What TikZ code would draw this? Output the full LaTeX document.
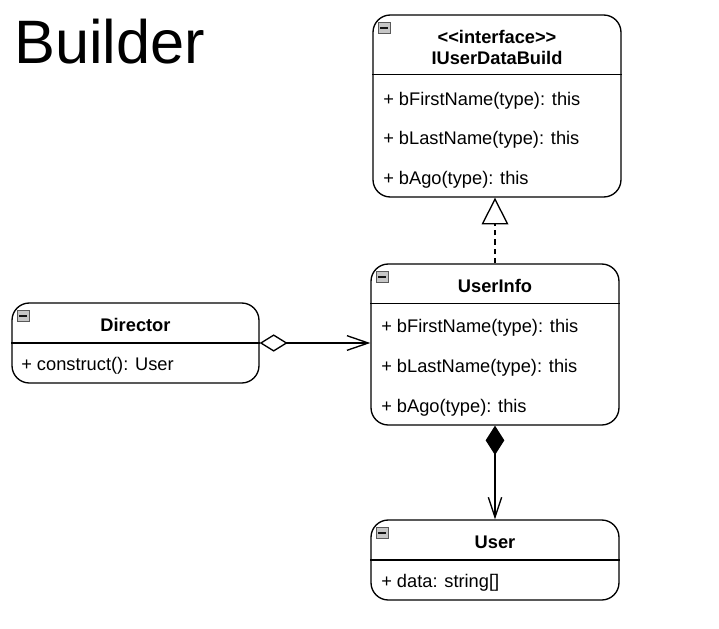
\documentclass[tikz,border=0pt]{standalone}
\usepackage{fontspec}
\setmainfont{Liberation Sans}
\usetikzlibrary{arrows.meta}
\usetikzlibrary{positioning}
\usetikzlibrary{calc}

\def\px{0.75pt}

\begin{document}
\begin{tikzpicture}[x=0.75pt, y=-0.75pt,
  classbox/.style={draw, line width=1pt, rounded corners=13pt, inner sep=0pt},
  member/.style={anchor=west, inner sep=0pt, font=\fontsize{13.7}{16}\selectfont},
  classtitle/.style={inner sep=0pt, font=\bfseries\fontsize{13.7}{16}\selectfont},
  iconbox/.style={draw=gray!70!black, fill=gray!45, line width=0.5pt},
  link/.style={line width=1pt}]
  \useasboundingbox (0,0) rectangle (719,629);

  % heading
  \node[anchor=base west, inner sep=0pt, font=\fontsize{46}{50}\selectfont] (heading) at (14,63) {Builder};

  % class boxes
  \node[classbox, minimum width=248*\px, minimum height=182*\px] (iface) at (497,106) {};
  \node[classbox, minimum width=248*\px, minimum height=161*\px] (info) at (495,344.5) {};
  \node[classbox, minimum width=247*\px, minimum height=80*\px] (director) at (135.5,343) {};
  \node[classbox, minimum width=248*\px, minimum height=80*\px] (user) at (495,560) {};

  % header dividers
  \draw[link] ($(iface.north west)+(0,60)$) -- ($(iface.north east)+(0,60)$);
  \draw[link] ($(info.north west)+(0,40)$) -- ($(info.north east)+(0,40)$);
  \draw[link] (director.west) -- (director.east);
  \draw[link] (user.west) -- (user.east);

  % collapse icons
  \foreach \b in {iface,info,director,user} {
    \draw[iconbox] ($(\b.north west)+(6,8)$) rectangle ++(12,11);
    \draw[line width=1.2pt, gray!15!black] ($(\b.north west)+(8,13.5)$) -- ++(8,0);
  }

  % titles
  \node[classtitle] (ifacestereo) at (497,37) {<\kern0pt<interface>\kern0pt>};
  \node[classtitle] (ifacename) at (497,57.5) {IUserDataBuild};
  \node[classtitle] (infoname) at (495,286) {UserInfo};
  \node[classtitle] (directorname) at (135.5,325) {Director};
  \node[classtitle] (username) at (495,542) {User};

  % members
  \node[member] (ifacefirst) at (383,100.5) {+ bFirstName(type): this};
  \node[member] (ifacelast) at (383,140) {+ bLastName(type): this};
  \node[member] (ifaceago) at (383,179.5) {+ bAgo(type): this};

  \node[member] (infofirst) at (381,327.5) {+ bFirstName(type): this};
  \node[member] (infolast) at (381,367.5) {+ bLastName(type): this};
  \node[member] (infoago) at (381,407.5) {+ bAgo(type): this};

  \node[member] (construct) at (21,365.5) {+ construct(): User};
  \node[member] (userdata) at (381,582.5) {+ data: string[]};

  % relations
  \draw[link, dash pattern=on 4pt off 3pt, -{Triangle[open, length=20pt, width=20pt]}]
    (info.north) -- (info.north |- iface.south);
  \draw[link, {Diamond[open, length=21pt, width=13pt]}-{Straight Barb[length=16pt, width=11pt]}]
    (director.east) -- (director.east -| info.west);
  \draw[link, {Diamond[length=22pt, width=14pt]}-{Straight Barb[length=15pt, width=10pt]}]
    (info.south) -- (user.north);

\end{tikzpicture}
\end{document}
